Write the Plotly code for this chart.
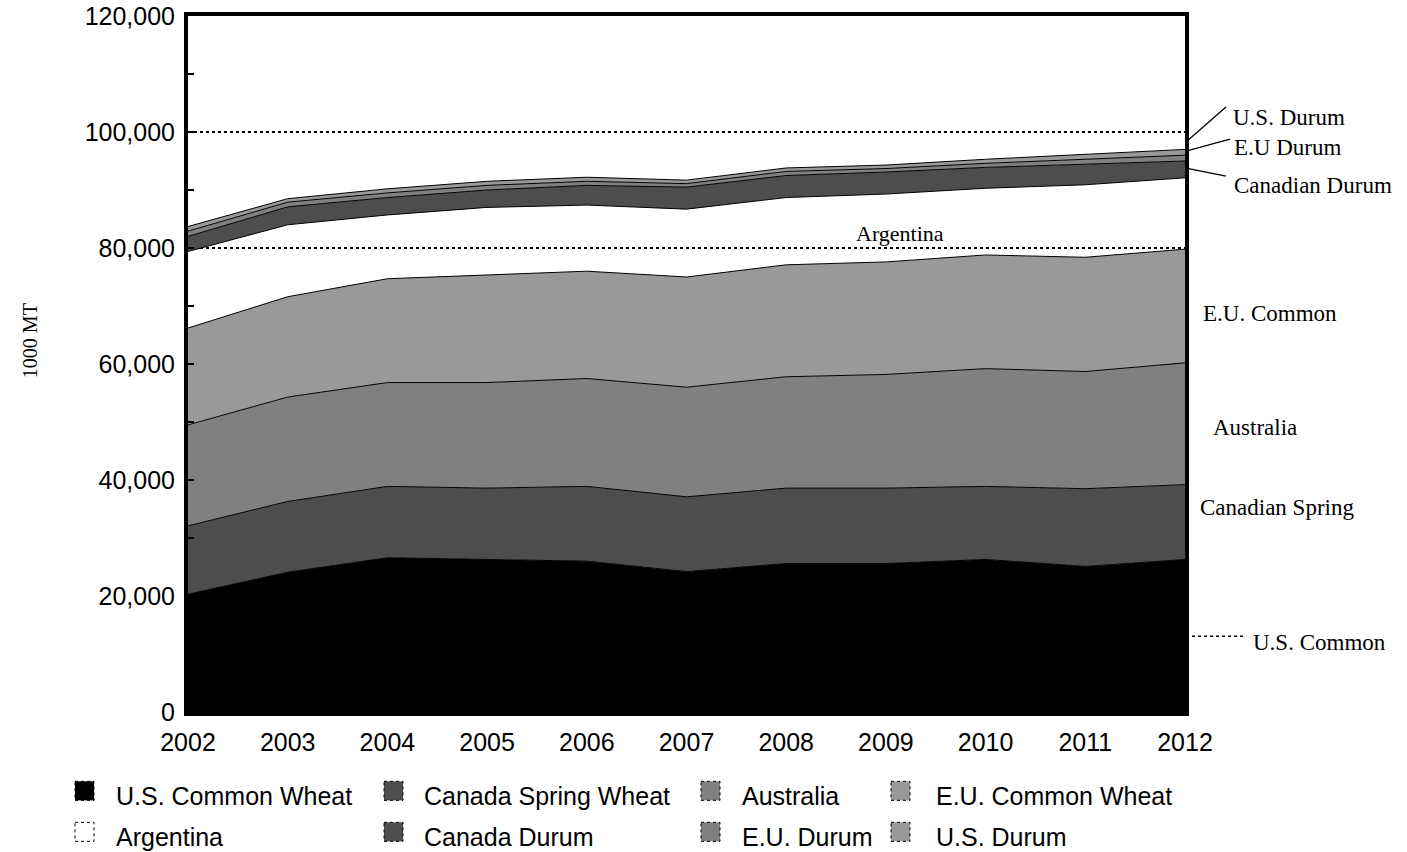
import plotly.graph_objects as go

years = [2002, 2003, 2004, 2005, 2006, 2007, 2008, 2009, 2010, 2011, 2012]

series_names = ["U.S. Common Wheat", "Canada Spring Wheat", "Australia", "E.U. Common Wheat",
                "Argentina", "Canada Durum", "E.U. Durum", "U.S. Durum"]

us_common = [20300, 24100, 26600, 26300, 26000, 24200, 25600, 25600, 26300, 25100, 26300]
canada_spring = [11800, 12200, 12300, 12300, 12900, 12900, 13000, 13000, 12600, 13400, 12900]
australia = [17400, 18000, 17900, 18200, 18600, 18900, 19200, 19600, 20300, 20200, 21000]
eu_common = [16700, 17300, 17900, 18500, 18500, 19000, 19300, 19400, 19600, 19700, 19600]
argentina = [13200, 12400, 11000, 11700, 11400, 11700, 11600, 11700, 11500, 12500, 12300]
canada_durum = [2600, 3100, 3000, 3000, 3400, 3800, 3800, 3800, 3600, 3500, 2900]
eu_durum = [900, 800, 800, 800, 700, 600, 700, 600, 700, 900, 1000]
us_durum = [800, 600, 700, 700, 700, 600, 600, 600, 700, 900, 1000]

series_values = [us_common, canada_spring, australia, eu_common,
                 argentina, canada_durum, eu_durum, us_durum]
fill_colors = ["#000000", "#4d4d4d", "#808080", "#999999",
               "rgba(255,255,255,0)", "#4d4d4d", "#808080", "#999999"]
legend_colors = ["#000000", "#4d4d4d", "#808080", "#999999",
                 "#ffffff", "#4d4d4d", "#808080", "#999999"]

y_ticks = [0, 20000, 40000, 60000, 80000, 100000, 120000]

# side labels
side_labels = ["U.S. Durum", "E.U Durum", "Canadian Durum", "E.U. Common",
               "Australia", "Canadian Spring", "U.S. Common"]

W, H = 1407, 852
L, R, T, B = 188, 1185, 16, 711.7


def px(x):
    return (x - L) / (R - L)


def py(y):
    return (B - y) / (B - T)


fig = go.Figure()
for name, vals, fc in zip(series_names, series_values, fill_colors):
    fig.add_trace(go.Scatter(
        x=years, y=vals, name=name, mode="lines", stackgroup="one",
        line=dict(color="black", width=1), fillcolor=fc, showlegend=False,
        hoverinfo="x+y+name"))

serif = "Liberation Serif"
sans = "Liberation Sans"

annotations = []
shapes = []

# y axis title
annotations.append(dict(text="1000 MT", x=px(30), y=py(341), xref="paper", yref="paper",
                        xanchor="center", yanchor="middle",
                        showarrow=False, textangle=-90, font=dict(family=serif, size=20, color="black")))

# side labels: (text, left x, center y)
label_pos = [(1231, 117), (1232, 147), (1232, 185), (1201, 313), (1211, 427), (1198, 507), (1251, 642)]
for t, (lx, cy) in zip(side_labels, label_pos):
    annotations.append(dict(text=t, x=px(lx), y=py(cy), xref="paper", yref="paper",
                            xanchor="left", yanchor="middle", showarrow=False,
                            font=dict(family=serif, size=23, color="black")))
annotations.append(dict(text="Argentina", x=px(900), y=py(233), xref="paper", yref="paper",
                        xanchor="center", yanchor="middle", showarrow=False,
                        font=dict(family=serif, size=22, color="black")))

# leader lines
leaders = [((1186, 142), (1226, 107), "solid"),
           ((1186, 151), (1230, 139), "solid"),
           ((1186, 168), (1226, 176), "solid"),
           ((1186, 636), (1245, 636), "dot")]
for (x0, y0), (x1, y1), d in leaders:
    shapes.append(dict(type="line", xref="paper", yref="paper", x0=px(x0), y0=py(y0),
                       x1=px(x1), y1=py(y1), line=dict(color="black", width=1.3, dash=d)))

# custom legend
col_sq = [75, 384, 701, 891]
col_tx = [114, 422, 740, 934]
row_sq = [781, 822]
row_tx = [796, 837]
for i, (name, col) in enumerate(zip(series_names, legend_colors)):
    r, c = divmod(i, 4)
    shapes.append(dict(type="rect", xref="paper", yref="paper",
                       x0=px(col_sq[c]), x1=px(col_sq[c] + 19),
                       y0=py(row_sq[r]), y1=py(row_sq[r] + 19),
                       fillcolor=col, line=dict(color="black", width=1, dash="dot")))
    annotations.append(dict(text=name, x=px(col_tx[c]), y=py(row_tx[r]), xref="paper", yref="paper",
                            xanchor="left", yanchor="middle", showarrow=False,
                            font=dict(family=sans, size=25, color="black")))

fig.update_layout(
    width=W, height=H,
    margin=dict(l=L, r=W - R, t=T, b=H - B),
    paper_bgcolor="white", plot_bgcolor="white",
    showlegend=False,
    annotations=annotations, shapes=shapes,
    font=dict(family=sans, size=25, color="black"),
)
fig.update_xaxes(range=[2002, 2012], tickvals=years, ticktext=[str(y) for y in years],
                 showgrid=False, zeroline=False, ticks="", showline=True, mirror=True,
                 linecolor="black", linewidth=4, tickfont=dict(family=sans, size=25, color="black"),
                 ticklabelstandoff=5, automargin=False)
fig.update_yaxes(range=[0, 120000], tickvals=y_ticks, tickformat=",d",
                 showgrid=True, gridcolor="black", gridwidth=1.5, griddash="dot",
                 zeroline=False, ticks="inside", ticklen=6, tickwidth=1.5, tickcolor="black",
                 minor=dict(dtick=10000, ticks="inside", ticklen=6, tickwidth=1.5, tickcolor="black", showgrid=False),
                 showline=True, mirror=True, linecolor="black", linewidth=4,
                 tickfont=dict(family=sans, size=25, color="black"), ticklabelstandoff=4,
                 automargin=False)

fig.write_html("out.html", config={"displayModeBar": False},
               post_script="document.body.style.margin='0';document.body.style.overflow='hidden';")
